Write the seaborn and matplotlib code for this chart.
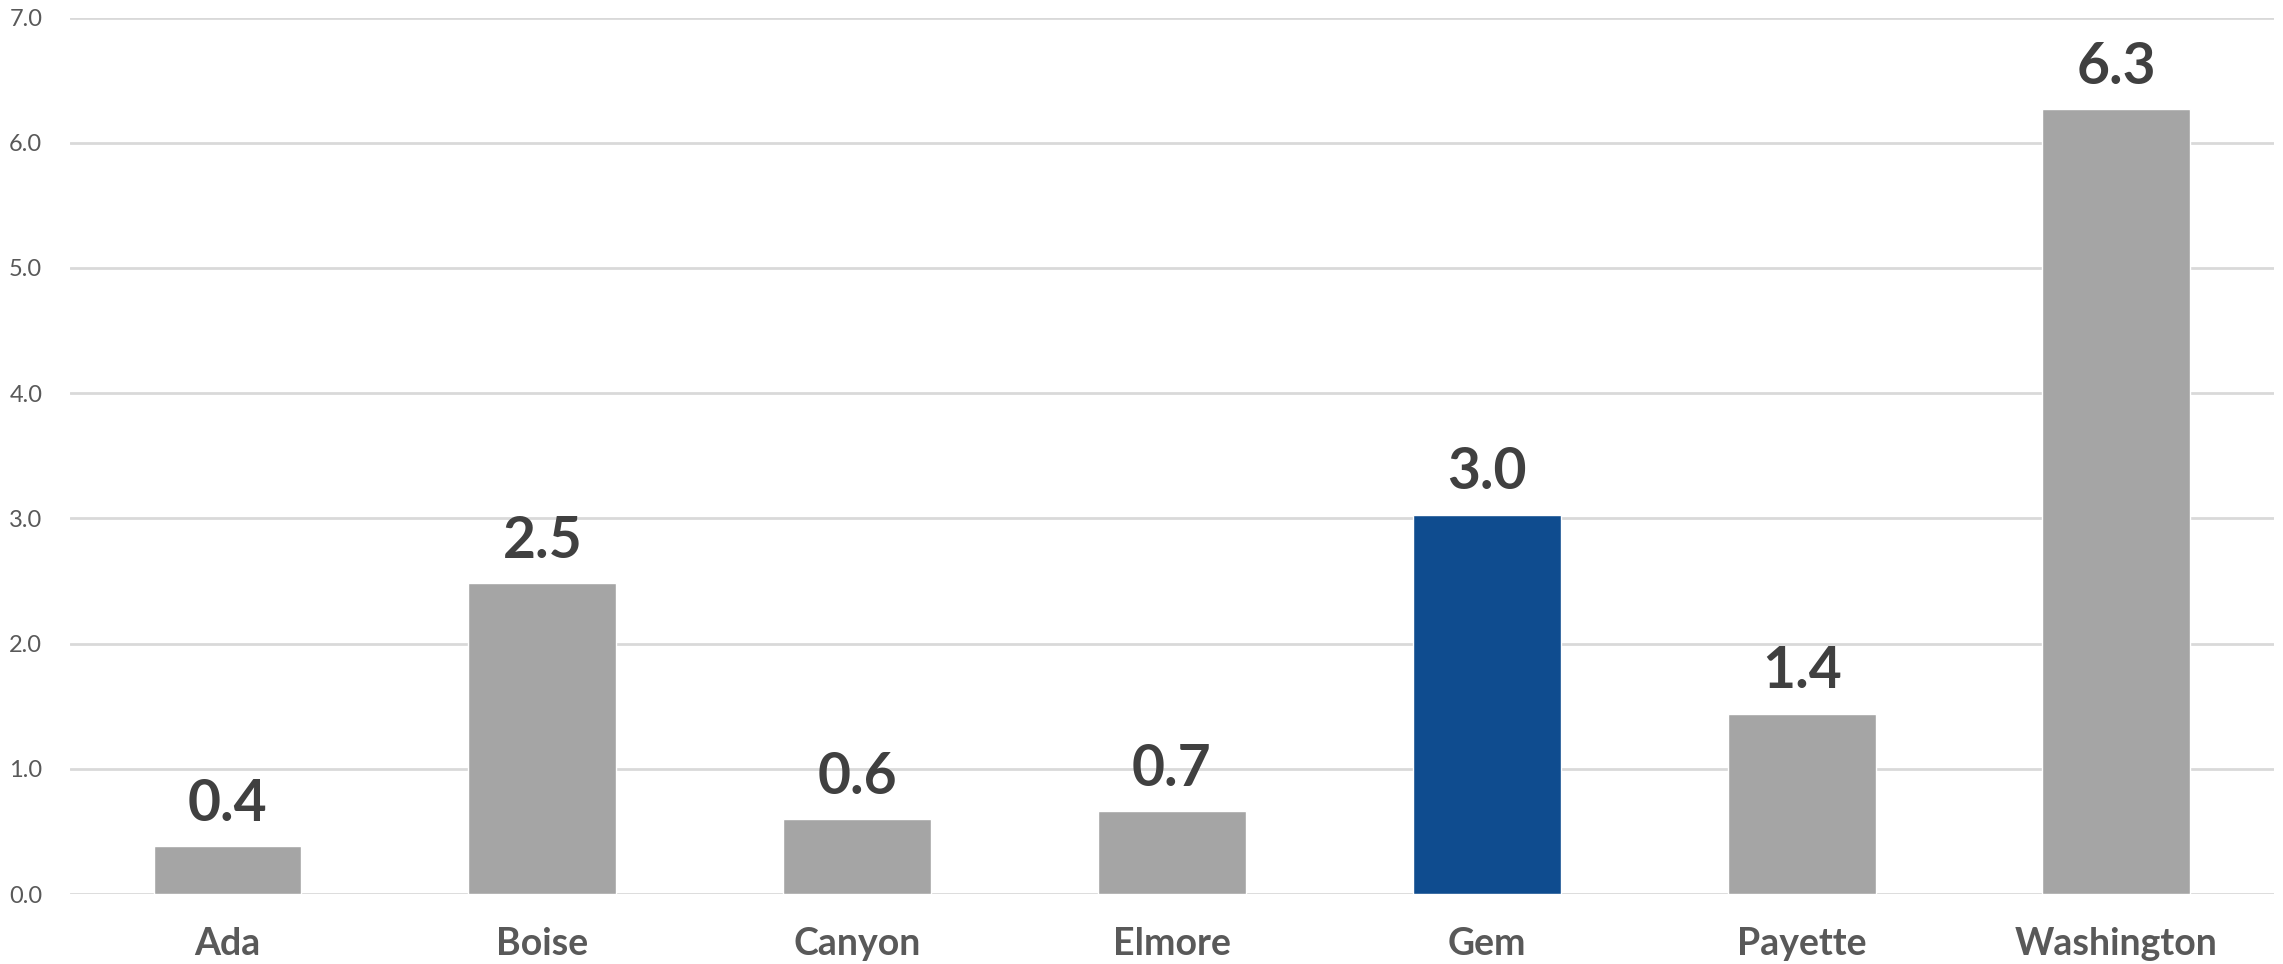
import matplotlib
matplotlib.use("Agg")
import matplotlib.pyplot as plt
import seaborn as sns
import pandas as pd

counties = ["Ada", "Boise", "Canyon", "Elmore", "Gem", "Payette", "Washington"]
values = [0.38, 2.48, 0.60, 0.66, 3.03, 1.44, 6.27]
highlight = "Gem"
y_ticks = [0.0, 1.0, 2.0, 3.0, 4.0, 5.0, 6.0, 7.0]

GRAY = "#A5A5A5"
BLUE = "#0F4C8F"

sns.set_theme(style="white")
plt.rcParams["font.family"] = ["Lato", "DejaVu Sans"]

df = pd.DataFrame({"county": counties, "value": values})
palette = {c: (BLUE if c == highlight else GRAY) for c in counties}

fig = plt.figure(figsize=(22.83, 9.64), dpi=100)
ax = fig.add_axes([0.0307, 0.0726, 0.9653, 0.9092])

sns.barplot(data=df, x="county", y="value", hue="county", palette=palette,
            order=counties, width=0.47, saturation=1, legend=False, ax=ax,
            zorder=3)

ax.set_ylim(0, 7)
ax.set_xlim(-0.5, len(counties) - 0.5)
ax.set_yticks(y_ticks)
ax.set_yticklabels([f"{t:.1f}" for t in y_ticks], fontsize=17, color="#595959")
ax.yaxis.grid(True, color="#D9D9D9", linewidth=2, zorder=0)
ax.xaxis.grid(False)
for s in ax.spines.values():
    s.set_visible(False)
ax.tick_params(axis="y", length=0, pad=20)
ax.tick_params(axis="x", length=0, pad=24)
ax.set_xticks(range(len(counties)))
ax.set_xticklabels(counties, fontsize=27, fontweight="bold", color="#595959")
ax.set_xlabel("")
ax.set_ylabel("")

for cont in ax.containers:
    ax.bar_label(cont, fmt="%.1f", padding=11, fontsize=41, fontweight="bold",
                 color="#404040")

fig.savefig("out.png", dpi=100)
